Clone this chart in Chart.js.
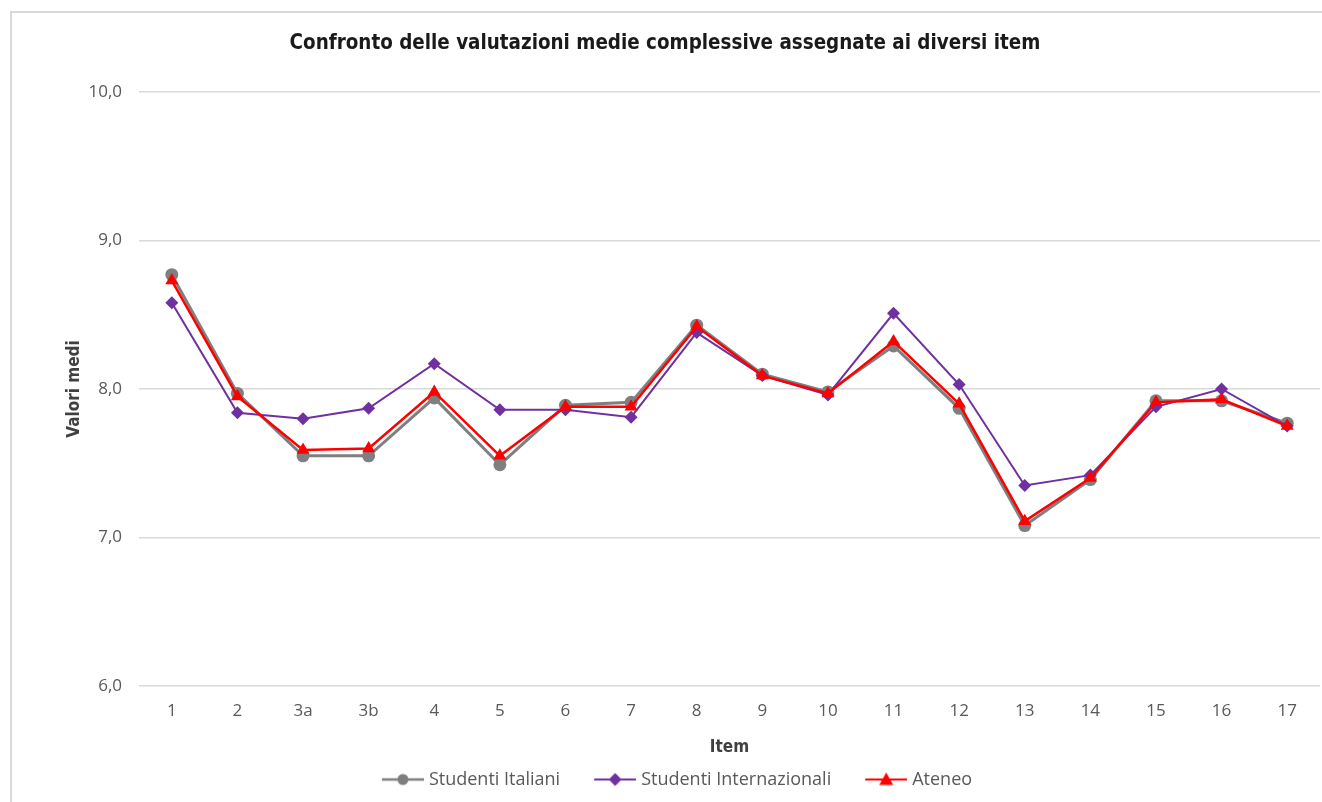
<!DOCTYPE html>
<html>
<head>
<meta charset="utf-8">
<script src="https://cdn.jsdelivr.net/npm/chart.js@4.4.1/dist/chart.umd.min.js"></script>
<style>
  html, body { margin: 0; padding: 0; background: #ffffff; }
  body { width: 1322px; height: 802px; position: relative; overflow: hidden; }
  #frame { position: absolute; left: 10px; top: 11px; width: 1400px; height: 900px;
           border: 2px solid #d9d9d9; box-sizing: border-box; }
  #wrap { position: absolute; left: 0; top: 0; width: 1322px; height: 802px; }
</style>
</head>
<body>
<div id="frame"></div>
<div id="wrap"><canvas id="c" width="1322" height="802"></canvas></div>
<script>
// ---- data ----
const categories = ['1','2','3a','3b','4','5','6','7','8','9','10','11','12','13','14','15','16','17'];
const studentiItaliani = [8.77,7.97,7.55,7.55,7.94,7.49,7.89,7.91,8.43,8.10,7.98,8.29,7.87,7.08,7.39,7.92,7.92,7.77];
const studentiInternazionali = [8.58,7.84,7.80,7.87,8.17,7.86,7.86,7.81,8.38,8.09,7.96,8.51,8.03,7.35,7.42,7.88,8.00,7.75];
const ateneo = [8.73,7.95,7.59,7.60,7.98,7.55,7.88,7.88,8.42,8.09,7.97,8.32,7.90,7.11,7.40,7.91,7.93,7.75];
const seriesNames = ['Studenti Italiani','Studenti Internazionali','Ateneo'];
const yMin = 6, yMax = 10, yStep = 1;
const titleText = 'Confronto delle valutazioni medie complessive assegnate ai diversi item';
const yTitle = 'Valori medi';
const xTitle = 'Item';

// ---- styles ----
const narrow = "'Liberation Sans Narrow', 'DejaVu Sans Condensed', sans-serif";
const body = "'Open Sans', 'Noto Sans', sans-serif";
const gray = '#7f7f7f', purple = '#7030a0', red = '#ff0000';

function legendIcon(color, style, lw, r) {
  const c = document.createElement('canvas');
  c.width = 70; c.height = 20;
  const g = c.getContext('2d');
  g.strokeStyle = color; g.fillStyle = color; g.lineWidth = lw;
  g.beginPath(); g.moveTo(28, 10); g.lineTo(70, 10); g.stroke();
  const cx = 49, cy = 10;
  g.beginPath();
  if (style === 'circle') { g.arc(cx, cy, r, 0, Math.PI * 2); }
  else if (style === 'rectRot') { g.moveTo(cx, cy - r); g.lineTo(cx + r, cy); g.lineTo(cx, cy + r); g.lineTo(cx - r, cy); g.closePath(); }
  else { g.moveTo(cx, cy - r); g.lineTo(cx + r, cy + r * 0.8); g.lineTo(cx - r, cy + r * 0.8); g.closePath(); }
  g.fill();
  return c;
}
const icons = [legendIcon(gray, 'circle', 2.5, 5.5), legendIcon(purple, 'rectRot', 2, 6.5), legendIcon(red, 'triangle', 2, 7)];

const chart = new Chart(document.getElementById('c'), {
  type: 'line',
  data: {
    labels: categories,
    datasets: [
      { label: seriesNames[0], data: studentiItaliani, borderColor: gray, backgroundColor: gray,
        borderWidth: 3, pointStyle: 'circle', pointRadius: 6.5, pointBorderWidth: 0, order: 2, tension: 0 },
      { label: seriesNames[1], data: studentiInternazionali, borderColor: purple, backgroundColor: purple,
        borderWidth: 2, pointStyle: 'rectRot', pointRadius: 6.5, pointBorderWidth: 0, order: 1, tension: 0 },
      { label: seriesNames[2], data: ateneo, borderColor: red, backgroundColor: red,
        borderWidth: 2.5, pointStyle: 'triangle', pointRadius: 7.5, pointBorderWidth: 0, order: 0, tension: 0 }
    ]
  },
  options: {
    responsive: false,
    animation: false,
    devicePixelRatio: 1,
    layout: { autoPadding: false, padding: { left: 10, top: 11, right: 2, bottom: 3.5 } },
    plugins: {
      tooltip: { enabled: false },
      title: {
        display: true, text: titleText, color: '#1a1a1a',
        font: { family: narrow, size: 20.4, weight: 'bold', lineHeight: 1.2 },
        padding: { top: 20, bottom: 36.5 }
      },
      legend: {
        position: 'bottom',
        labels: {
          usePointStyle: true, pointStyleWidth: 62, boxHeight: 18, padding: 10,
          color: '#595959', font: { family: body, size: 18 },
          generateLabels: (ch) => ch.data.datasets.map((ds, i) => ({
            text: ds.label, pointStyle: icons[i], fillStyle: ds.borderColor, strokeStyle: ds.borderColor,
            lineWidth: 0, hidden: false, datasetIndex: i, fontColor: '#595959'
          }))
        }
      }
    },
    scales: {
      x: {
        offset: true,
        grid: { display: false, drawTicks: false },
        border: { display: false },
        ticks: { color: '#595959', font: { family: body, size: 17 }, padding: 15, maxRotation: 0, autoSkip: false },
        title: { display: true, text: xTitle, color: '#404040',
                 font: { family: narrow, size: 17, weight: 'bold' }, padding: { top: 0, bottom: 3 } },
        afterFit: (s) => { s.height = 74.5; s.paddingLeft = 0; s.paddingRight = 0; }
      },
      y: {
        min: yMin, max: yMax,
        grid: { color: '#d9d9d9', lineWidth: 1.5, drawTicks: false },
        border: { display: false },
        ticks: { stepSize: yStep, color: '#595959', font: { family: body, size: 17 }, padding: 17,
                 callback: (v) => v.toFixed(1).replace('.', ',') },
        title: { display: true, text: yTitle, color: '#404040',
                 font: { family: narrow, size: 17, weight: 'bold' }, padding: { top: 54, bottom: 0 } },
        afterFit: (s) => { s.width = 129; }
      }
    }
  }
});
</script>
</body>
</html>
